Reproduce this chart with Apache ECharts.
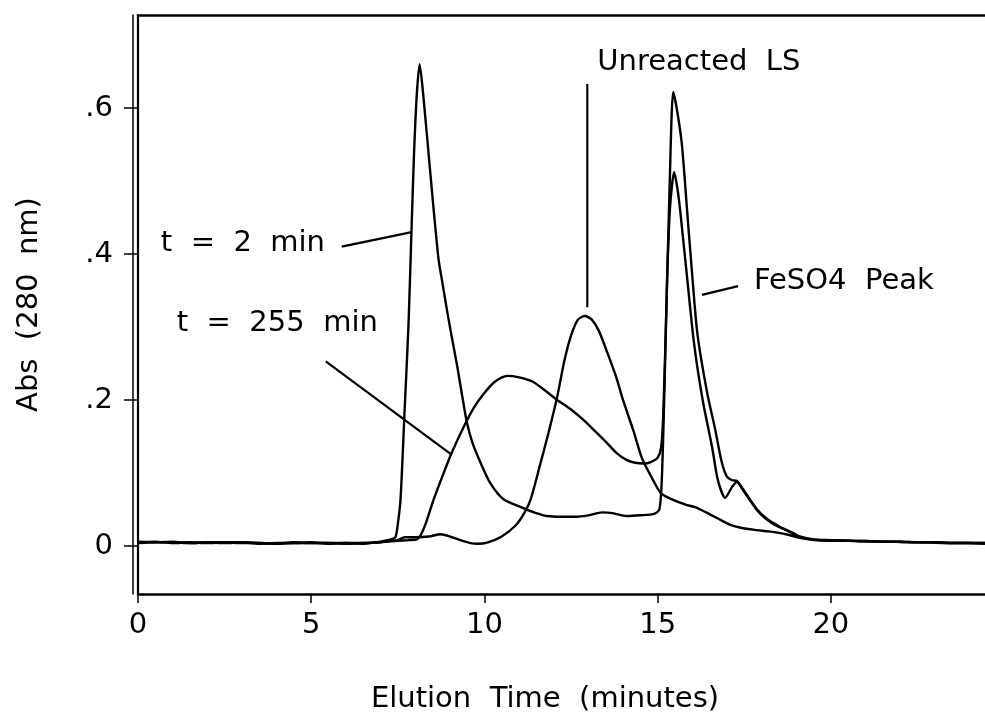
<!DOCTYPE html>
<html>
<head>
<meta charset="utf-8">
<script src="https://cdn.jsdelivr.net/npm/echarts@6/dist/echarts.min.js"></script>
<style>html,body{margin:0;padding:0;background:#fff}#c{width:985px;height:723px}</style>
</head>
<body>
<div id="c"></div>
<script>
// ---- data (x = elution time, min; y = absorbance at 280 nm)
const seriesNames = ['t = 2 min', 't = 255 min', 'Unreacted LS'];

const t2minPoints = [
  [0,0.006],[0.5,0.005],[1,0.006],[1.5,0.004],[2,0.005],[2.5,0.004],[3,0.005],[3.5,0.004],[4,0.003],[4.5,0.005],
  [5,0.004],[5.5,0.004],[6,0.004],[6.5,0.003],[7,0.006],[7.3,0.009],[7.43,0.012],[7.5,0.03],[7.58,0.065],[7.7,0.19],
  [7.81,0.305],[7.9,0.44],[7.97,0.54],[8.05,0.62],[8.13,0.66],[8.24,0.615],[8.44,0.51],[8.67,0.395],[8.8,0.357],[8.93,0.32],
  [9.07,0.283],[9.22,0.245],[9.36,0.205],[9.5,0.168],[9.65,0.142],[9.88,0.115],[10.17,0.086],[10.55,0.064],[11.07,0.053],[11.5,0.045],
  [11.8,0.041],[12.2,0.040],[12.6,0.040],[13.0,0.042],[13.4,0.046],[13.7,0.045],[14.1,0.041],[14.5,0.042],[14.9,0.044],[15.05,0.05],
  [15.12,0.09],[15.2,0.22],[15.27,0.36],[15.36,0.465],[15.48,0.512],[15.57,0.49],[15.65,0.46],[15.85,0.368],[16.05,0.278],[16.3,0.2],
  [16.57,0.136],[16.74,0.09],[16.95,0.066],[17.15,0.081],[17.29,0.088],[17.46,0.077],[17.87,0.049],[18.16,0.036],[18.5,0.026],[18.9,0.018],
  [19.1,0.013],[19.5,0.009],[20,0.008],[20.5,0.007],[21,0.007],[21.5,0.006],[22,0.006],[22.5,0.005],[23,0.005],[23.5,0.004],
  [24,0.004],[24.45,0.004]
];

const t255minPoints = [
  [0,0.005],[0.5,0.006],[1,0.004],[1.5,0.005],[2,0.004],[2.5,0.005],[3,0.005],[3.5,0.003],[4,0.004],[4.5,0.004],
  [5,0.005],[5.5,0.003],[6,0.004],[6.5,0.004],[7,0.005],[7.5,0.007],[7.8,0.008],[8.05,0.009],[8.15,0.014],[8.3,0.03],
  [8.53,0.063],[8.8,0.097],[9.05,0.127],[9.4,0.163],[9.7,0.19],[9.97,0.208],[10.3,0.225],[10.66,0.233],[11.0,0.231],[11.4,0.225],
  [11.75,0.213],[12.1,0.2],[12.5,0.187],[12.85,0.173],[13.2,0.157],[13.54,0.141],[13.8,0.128],[14.1,0.118],[14.35,0.114],[14.6,0.113],
  [14.8,0.115],[15.0,0.121],[15.1,0.135],[15.16,0.177],[15.25,0.32],[15.35,0.5],[15.45,0.622],[15.55,0.6],[15.7,0.55],[15.85,0.46],
  [16.0,0.37],[16.15,0.29],[16.43,0.21],[16.66,0.16],[16.85,0.115],[17.0,0.095],[17.15,0.09],[17.29,0.089],[17.46,0.078],[17.87,0.05],
  [18.16,0.037],[18.5,0.027],[18.75,0.021],[19.0,0.014],[19.3,0.01],[19.7,0.008],[20.2,0.008],[20.8,0.007],[21.5,0.006],[22,0.006],
  [22.7,0.005],[23.3,0.004],[24,0.004],[24.45,0.003]
];

const unreactedLSPoints = [
  [0,0.004],[0.5,0.005],[1,0.005],[1.5,0.004],[2,0.005],[2.5,0.005],[3,0.004],[3.5,0.004],[4,0.003],[4.5,0.004],
  [5,0.004],[5.5,0.004],[6,0.003],[6.5,0.004],[7,0.005],[7.3,0.007],[7.5,0.008],[7.7,0.012],[8.0,0.012],[8.4,0.013],
  [8.73,0.016],[9.0,0.013],[9.3,0.008],[9.6,0.004],[9.8,0.003],[10.1,0.005],[10.5,0.013],[10.9,0.028],[11.15,0.045],[11.33,0.063],
  [11.6,0.11],[11.85,0.155],[12.1,0.204],[12.3,0.252],[12.5,0.288],[12.7,0.31],[12.9,0.315],[13.1,0.31],[13.3,0.295],[13.54,0.266],
  [13.8,0.232],[14.0,0.2],[14.3,0.158],[14.55,0.12],[14.85,0.092],[15.1,0.072],[15.5,0.062],[15.85,0.056],[16.1,0.053],[16.4,0.046],
  [16.8,0.036],[17.1,0.029],[17.4,0.025],[17.8,0.022],[18.2,0.02],[18.5,0.018],[18.8,0.015],[19.1,0.011],[19.5,0.008],[20,0.007],
  [20.5,0.007],[21,0.006],[21.7,0.006],[22.3,0.005],[23,0.005],[23.7,0.004],[24.45,0.004]
];

const xTickValues = [0, 5, 10, 15, 20];
const yTickValues = [0, 0.2, 0.4, 0.6];

// ---- annotation anchors (data units)
const annotations = [
  { text: 't  =  2  min',   at: [0.66, 0.415],  line: [[5.88, 0.41], [7.90, 0.43]] },
  { text: 't  =  255  min', at: [1.12, 0.305],  line: [[5.42, 0.253], [9.05, 0.125]] },
  { text: 'Unreacted  LS',  at: [13.26, 0.663], line: [[12.97, 0.633], [12.97, 0.327]] },
  { text: 'FeSO4  Peak',    at: [17.78, 0.363], line: [[16.28, 0.344], [17.32, 0.356]] }
];

const FONT = 'DejaVu Sans';
const X_MIN = 0, X_MAX = 24.45, Y_MIN = -0.0658, Y_MAX = 0.7274;

const chart = echarts.init(document.getElementById('c'), null, { renderer: 'canvas' });

const lineSeries = (name, pts) => ({
  name, type: 'line', data: pts, xAxisIndex: 0, yAxisIndex: 0,
  showSymbol: false, smooth: 0.25, silent: true,
  lineStyle: { color: '#000', width: 2.4 }
});

chart.setOption({
  animation: false,
  backgroundColor: '#fff',
  grid: { left: 138, right: 0, top: 15, bottom: 129 },
  xAxis: [
    {
      type: 'value', min: X_MIN, max: X_MAX,
      name: 'Elution  Time  (minutes)', nameLocation: 'middle', nameGap: 91,
      nameTextStyle: { fontSize: 29, fontFamily: FONT, color: '#000', padding: [0, 33, 0, 0] },
      axisLine: { show: true, onZero: false, lineStyle: { color: '#000', width: 2.5 } },
      axisTick: { show: true, customValues: xTickValues, length: 9, lineStyle: { color: '#000', width: 1.5 } },
      axisLabel: { customValues: xTickValues, margin: 17, fontSize: 29, fontFamily: FONT, color: '#000' },
      splitLine: { show: false }
    },
    {
      type: 'value', position: 'top', min: X_MIN, max: X_MAX,
      axisLine: { show: true, onZero: false, lineStyle: { color: '#000', width: 2.5 } },
      axisTick: { show: false }, axisLabel: { show: false }, splitLine: { show: false }
    }
  ],
  yAxis: [
    {
      type: 'value', min: Y_MIN, max: Y_MAX,
      name: 'Abs  (280  nm)', nameLocation: 'middle', nameGap: 94,
      nameTextStyle: { fontSize: 29, fontFamily: FONT, color: '#000' },
      axisLine: { show: true, onZero: false, lineStyle: { color: '#000', width: 2.2 } },
      axisTick: { show: true, customValues: yTickValues, length: 14, lineStyle: { color: '#000', width: 1.5 } },
      axisLabel: {
        customValues: yTickValues, margin: 25, fontSize: 29, fontFamily: FONT, color: '#000',
        formatter: v => (Math.abs(v) < 1e-9 ? '0' : String(+v.toFixed(1)).replace(/^0\./, '.'))
      },
      splitLine: { show: false }
    },
    {
      type: 'value', position: 'left', offset: 5, min: Y_MIN, max: Y_MAX,
      axisLine: { show: true, onZero: false, lineStyle: { color: '#000', width: 1.5 } },
      axisTick: { show: false }, axisLabel: { show: false }, splitLine: { show: false }
    }
  ],
  series: [
    lineSeries(seriesNames[0], t2minPoints),
    lineSeries(seriesNames[1], t255minPoints),
    lineSeries(seriesNames[2], unreactedLSPoints)
  ]
});

const toPx = p => chart.convertToPixel({ xAxisIndex: 0, yAxisIndex: 0 }, p);
const graphics = [];
annotations.forEach(a => {
  const p = toPx(a.at);
  graphics.push({
    type: 'text', x: p[0], y: p[1], silent: true,
    style: { text: a.text, fill: '#000', font: '29px "' + FONT + '"', align: 'left', verticalAlign: 'middle' }
  });
  const p1 = toPx(a.line[0]), p2 = toPx(a.line[1]);
  graphics.push({
    type: 'line', silent: true,
    shape: { x1: p1[0], y1: p1[1], x2: p2[0], y2: p2[1] },
    style: { stroke: '#000', lineWidth: 2.2 }
  });
});
chart.setOption({ graphic: graphics });
</script>
</body>
</html>
